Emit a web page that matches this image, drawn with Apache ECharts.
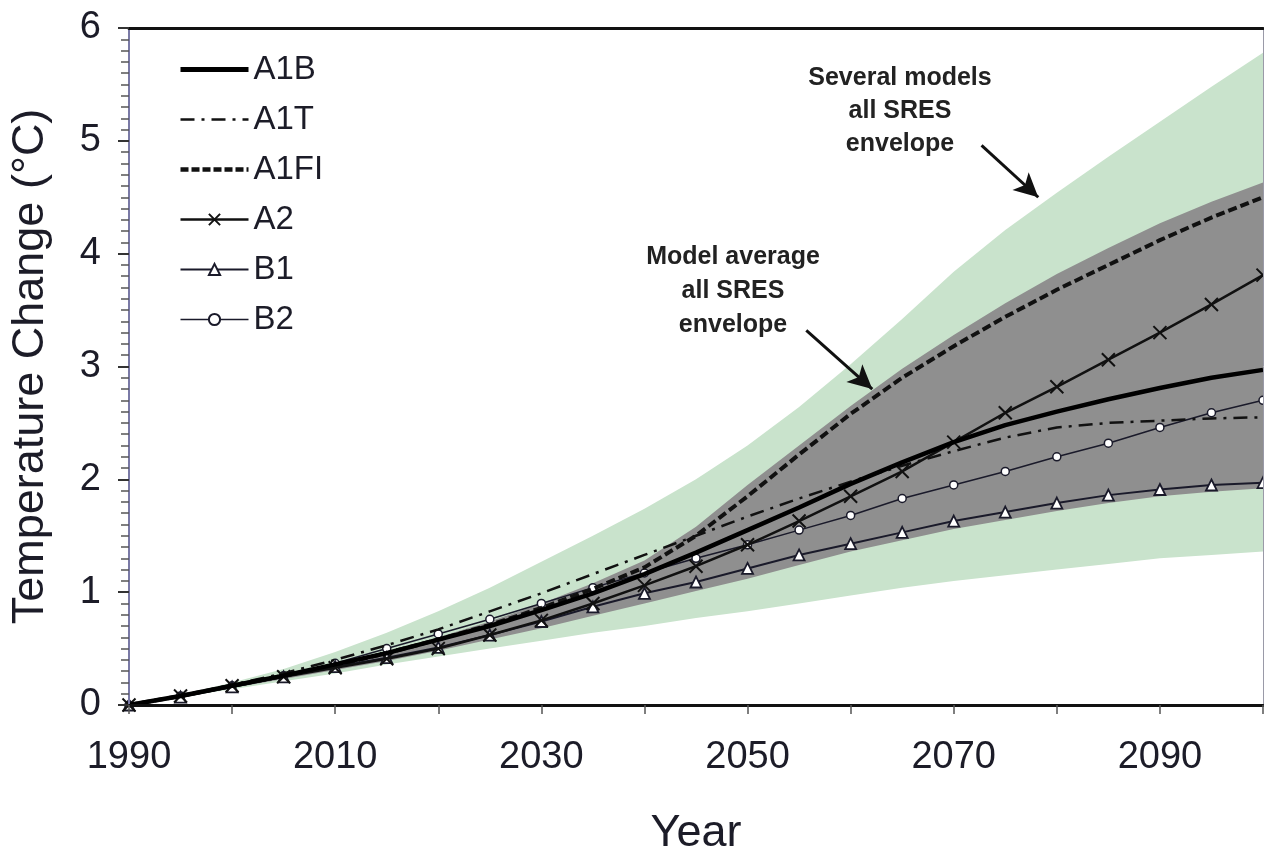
<!DOCTYPE html>
<html>
<head>
<meta charset="utf-8">
<script src="https://cdn.jsdelivr.net/npm/echarts@6/dist/echarts.min.js"></script>
<style>
  html, body { margin: 0; padding: 0; background: #fff; }
  #chart { width: 1264px; height: 851px; }
</style>
</head>
<body>
<div id="chart"></div>
<script>
// Projected global mean warming relative to 1990, by SRES scenario
const years = [1990,1995,2000,2005,2010,2015,2020,2025,2030,2035,2040,2045,2050,2055,2060,2065,2070,2075,2080,2085,2090,2095,2100];

const a1b  = [0,0.08,0.17,0.26,0.36,0.46,0.58,0.70,0.84,0.99,1.16,1.35,1.55,1.75,1.96,2.15,2.33,2.48,2.60,2.71,2.81,2.90,2.97];
const a1t  = [0,0.08,0.18,0.28,0.40,0.53,0.67,0.83,0.99,1.16,1.33,1.50,1.67,1.83,1.98,2.12,2.25,2.37,2.46,2.50,2.52,2.54,2.55];
const a1fi = [0,0.08,0.17,0.26,0.35,0.46,0.58,0.71,0.86,1.03,1.22,1.50,1.85,2.22,2.58,2.90,3.18,3.44,3.68,3.90,4.12,4.32,4.50];
const a2   = [0,0.08,0.17,0.25,0.33,0.41,0.50,0.62,0.75,0.90,1.06,1.23,1.42,1.63,1.85,2.07,2.33,2.59,2.82,3.06,3.30,3.55,3.81];
const b1   = [0,0.07,0.16,0.25,0.34,0.42,0.51,0.62,0.74,0.87,0.99,1.09,1.21,1.33,1.43,1.53,1.63,1.71,1.79,1.86,1.91,1.95,1.97];
const b2   = [0,0.08,0.17,0.26,0.37,0.50,0.63,0.76,0.90,1.04,1.17,1.30,1.42,1.55,1.68,1.83,1.95,2.07,2.20,2.32,2.46,2.59,2.70];

// Envelopes over all SRES scenarios: several models (green) and model average (grey)
const greenLow  = [0,0.07,0.14,0.21,0.28,0.36,0.43,0.50,0.57,0.64,0.70,0.77,0.83,0.90,0.97,1.04,1.10,1.15,1.20,1.25,1.30,1.33,1.36];
const greenHigh = [0,0.09,0.20,0.32,0.47,0.64,0.83,1.04,1.27,1.50,1.74,2.00,2.30,2.64,3.02,3.42,3.84,4.21,4.54,4.86,5.17,5.48,5.78];
const greyLow   = [0,0.07,0.15,0.23,0.31,0.39,0.48,0.58,0.68,0.79,0.90,1.01,1.12,1.24,1.36,1.46,1.56,1.64,1.72,1.79,1.85,1.89,1.92];
const greyHigh  = [0,0.09,0.18,0.27,0.36,0.47,0.60,0.74,0.90,1.08,1.28,1.58,1.95,2.30,2.65,2.98,3.28,3.56,3.82,4.05,4.27,4.46,4.63];

const xTicks = [1990, 2010, 2030, 2050, 2070, 2090];

const pair = (xs, ys) => xs.map((x, i) => [x, ys[i]]);

// Filled band between two curves, drawn once through the axis scales
function bandSeries(name, lo, hi, color, z) {
  return {
    name, type: 'custom', z, silent: true, clip: true,
    data: [[years[0], lo[0]]],
    encode: { x: 0, y: 1 },
    renderItem: (params, api) => {
      const upper = years.map((x, i) => api.coord([x, hi[i]]));
      const lower = years.map((x, i) => api.coord([x, lo[i]])).reverse();
      return { type: 'polygon', shape: { points: upper.concat(lower) }, style: { fill: color } };
    }
  };
}

const FONT = 'Liberation Sans, Arial, sans-serif';
const TXT = '#1c1c28';
const crossPath = 'path://M0,0L10,10M10,0L0,10';

const chart = echarts.init(document.getElementById('chart'), null, { renderer: 'canvas' });

chart.setOption({
  animation: false,
  backgroundColor: '#ffffff',
  grid: { left: 129, right: 1, top: 28, bottom: 146, outerBoundsMode: 'none', containLabel: false },
  legend: {
    orient: 'vertical',
    left: 173,
    top: 48,
    itemWidth: 68,
    itemHeight: 14,
    itemGap: 17,
    data: [
      { name: 'A1B', itemStyle: { opacity: 0 }, lineStyle: { width: 5, color: '#000' } },
      { name: 'A1T', itemStyle: { opacity: 0 }, lineStyle: { width: 2.5, color: '#111', type: [14, 7, 3, 7] } },
      { name: 'A1FI', itemStyle: { opacity: 0 }, lineStyle: { width: 4.5, color: '#111', type: [8, 3] } },
      { name: 'A2', lineStyle: { width: 2.5, color: '#111' } },
      { name: 'B1', lineStyle: { width: 2, color: '#1a1a2a' } },
      { name: 'B2', lineStyle: { width: 1.5, color: '#1a1a2a' } }
    ],
    textStyle: { fontFamily: FONT, fontSize: 33, color: TXT }
  },
  xAxis: [{
    type: 'value', z: 10,
    min: 1990, max: 2100, interval: 10,
    axisLine: { onZero: false, lineStyle: { color: '#111', width: 3 } },
    axisTick: { show: true, inside: false, length: 9, lineStyle: { color: '#555', width: 1.5 } },
    axisLabel: {
      margin: 34, fontFamily: FONT, fontSize: 38, color: TXT,
      formatter: v => xTicks.includes(v) ? String(v) : ''
    },
    splitLine: { show: false },
    name: 'Year', nameLocation: 'middle', nameGap: 106,
    nameTextStyle: { fontFamily: FONT, fontSize: 45, color: TXT }
  }, {
    type: 'value', position: 'top', z: 10,
    min: 1990, max: 2100,
    axisLine: { show: true, onZero: false, lineStyle: { color: '#111', width: 3 } },
    axisTick: { show: false }, axisLabel: { show: false }, splitLine: { show: false }
  }],
  yAxis: [{
    type: 'value', z: 10,
    min: 0, max: 6, interval: 1,
    axisLine: { show: true, onZero: false, lineStyle: { color: '#7a7aa6', width: 2 } },
    axisTick: { show: true, inside: false, length: 11, lineStyle: { color: '#333', width: 2 } },
    minorTick: { show: true, splitNumber: 10, length: 8, lineStyle: { color: '#555', width: 1.5 } },
    axisLabel: { margin: 28, fontFamily: FONT, fontSize: 38, color: TXT },
    splitLine: { show: false },
    name: 'Temperature Change (°C)', nameLocation: 'middle', nameGap: 76,
    nameTextStyle: { fontFamily: FONT, fontSize: 45, color: TXT }
  }, {
    type: 'value', position: 'right', z: 10,
    min: 0, max: 6,
    axisLine: { show: true, onZero: false, lineStyle: { color: '#9a9aa8', width: 1 } },
    axisTick: { show: false }, axisLabel: { show: false }, splitLine: { show: false }
  }],
  series: [
    bandSeries('several models', greenLow, greenHigh, '#c9e3cc', 1),
    bandSeries('model average', greyLow, greyHigh, '#8f8f8f', 2),

    { name: 'B2', type: 'line', data: pair(years, b2), z: 5,
      symbol: 'circle', symbolSize: 8, showAllSymbol: true,
      lineStyle: { color: '#1a1a2a', width: 1.5 },
      itemStyle: { color: '#ffffff', borderColor: '#1a1a2a', borderWidth: 1.5 } },
    { name: 'B1', type: 'line', data: pair(years, b1), z: 5,
      symbol: 'triangle', symbolSize: 11, showAllSymbol: true,
      lineStyle: { color: '#1a1a2a', width: 2 },
      itemStyle: { color: '#ffffff', borderColor: '#1a1a2a', borderWidth: 1.8 } },
    { name: 'A2', type: 'line', data: pair(years, a2), z: 6,
      symbol: crossPath, symbolSize: 13, showAllSymbol: true,
      lineStyle: { color: '#111', width: 2.5 },
      itemStyle: { color: '#111', borderColor: '#111', borderWidth: 2 } },
    { name: 'A1T', type: 'line', data: pair(years, a1t), z: 6,
      symbol: 'none',
      lineStyle: { color: '#111', width: 2.5, type: [14, 7, 3, 7] },
      itemStyle: { color: '#111' } },
    { name: 'A1FI', type: 'line', data: pair(years, a1fi), z: 7,
      symbol: 'none',
      lineStyle: { color: '#111', width: 4, type: [9, 4] },
      itemStyle: { color: '#111' } },
    { name: 'A1B', type: 'line', data: pair(years, a1b), z: 7,
      symbol: 'none',
      lineStyle: { color: '#000', width: 4.5 },
      itemStyle: { color: '#000' },
      markLine: {
        silent: true,
        symbol: ['none', 'arrow'],
        symbolSize: [18, 24],
        label: { show: false },
        lineStyle: { color: '#111', width: 3, type: 'solid' },
        data: [
          [{ coord: [2072.7, 4.96] }, { coord: [2078.2, 4.50] }],
          [{ coord: [2055.7, 3.32] }, { coord: [2062.1, 2.80] }]
        ]
      } }
  ],
  graphic: [
    { type: 'text', x: 900, y: 62, z: 20,
      style: { text: 'Several models\nall SRES\nenvelope', align: 'center', verticalAlign: 'top',
        fill: '#222', font: 'bold 25px ' + FONT, lineHeight: 33 } },
    { type: 'text', x: 733, y: 240, z: 20,
      style: { text: 'Model average\nall SRES\nenvelope', align: 'center', verticalAlign: 'top',
        fill: '#222', font: 'bold 25px ' + FONT, lineHeight: 34 } }
  ]
});
</script>
</body>
</html>
